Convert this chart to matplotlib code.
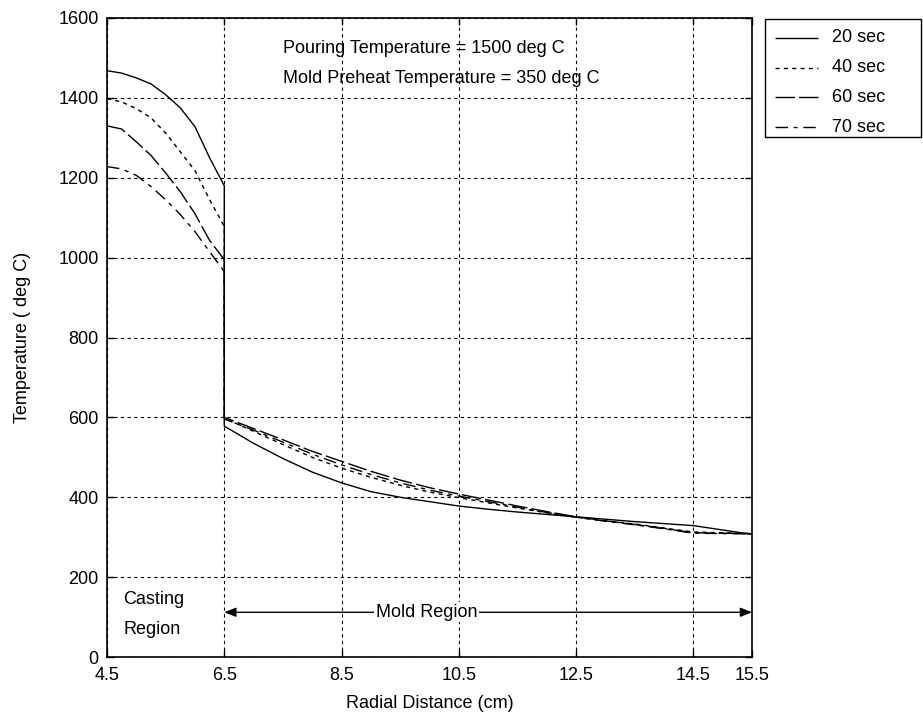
import matplotlib
matplotlib.use('Agg')
import matplotlib.pyplot as plt
from matplotlib.lines import Line2D
from matplotlib.patches import Rectangle

plt.rcParams['font.family'] = ['Liberation Sans', 'DejaVu Sans']

# casting region (radial distance, cm)
x_cast = [4.5, 4.75, 5.0, 5.25, 5.5, 5.75, 6.0, 6.25, 6.5]
# mold region
x_mold = [6.5, 7.0, 7.5, 8.0, 8.5, 9.0, 9.5, 10.0, 10.5, 11.0, 11.5, 12.0,
          12.5, 13.0, 13.5, 14.0, 14.5, 15.0, 15.5]

t20_cast = [1468, 1462, 1450, 1435, 1408, 1375, 1328, 1250, 1180]
t40_cast = [1398, 1390, 1373, 1350, 1312, 1265, 1218, 1145, 1078]
t60_cast = [1330, 1322, 1290, 1256, 1212, 1165, 1110, 1043, 995]
t70_cast = [1228, 1222, 1206, 1178, 1145, 1108, 1065, 1015, 965]

t20_mold = [578, 535, 497, 463, 436, 414, 400, 389, 378, 370, 363, 357, 351, 345, 339, 334, 329, 318, 307]
t40_mold = [598, 565, 532, 500, 473, 450, 430, 413, 399, 386, 373, 361, 350, 341, 333, 323, 313, 311, 309]
t60_mold = [600, 572, 544, 515, 490, 465, 443, 424, 408, 393, 378, 364, 351, 341, 332, 322, 311, 310, 309]
t70_mold = [596, 568, 538, 508, 481, 457, 436, 418, 403, 389, 375, 362, 350, 340, 331, 321, 310, 309, 308]

labels = ['20 sec', '40 sec', '60 sec', '70 sec']
xticks = [4.5, 6.5, 8.5, 10.5, 12.5, 14.5, 15.5]
yticks = [0, 200, 400, 600, 800, 1000, 1200, 1400, 1600]

W, H = 923, 727
fig = plt.figure(figsize=(W/100, H/100), dpi=100)
ax = fig.add_axes([107/W, 1 - 657/H, (752 - 107)/W, (657 - 18)/H])

styles = [(0, ()), (0, (3, 3)), (0, (14, 3)), (0, (9, 4, 3, 4))]
series = [(t20_cast, t20_mold), (t40_cast, t40_mold), (t60_cast, t60_mold), (t70_cast, t70_mold)]
for (tc, tm), st, lab in zip(series, styles, labels):
    ax.plot(x_cast + x_mold, tc + tm, color='black', lw=1.0, ls=st, label=lab)

ax.set_xlim(4.5, 15.5)
ax.set_ylim(0, 1600)
ax.set_xticks(xticks)
ax.set_xticklabels(['4.5', '6.5', '8.5', '10.5', '12.5', '14.5', '15.5'])
ax.set_yticks(yticks)
ax.tick_params(direction='in', top=True, right=True, length=5, width=1,
               labelsize=13, colors='black')
ax.tick_params(axis='x', pad=7)
ax.tick_params(axis='y', pad=6)
ax.grid(True, color='black', ls=(0, (3, 3)), lw=0.8)
for s in ax.spines.values():
    s.set_linewidth(1.2)

ax.set_xlabel('Radial Distance (cm)', fontsize=13, labelpad=8)
ax.set_ylabel('Temperature ( deg C)', fontsize=13, labelpad=20)

ax.text(7.5, 1524, 'Pouring Temperature = 1500 deg C', fontsize=13, va='center', ha='left')
ax.text(7.5, 1449, 'Mold Preheat Temperature = 350 deg C', fontsize=13, va='center', ha='left')

ax.text(4.78, 144, 'Casting', fontsize=13, va='center', ha='left')
ax.text(4.78, 69, 'Region', fontsize=13, va='center', ha='left')

ax.annotate('', xy=(6.5, 112), xytext=(15.5, 112),
            arrowprops=dict(arrowstyle='<|-|>,head_length=0.7,head_width=0.28',
                            color='black', lw=1.0, shrinkA=0, shrinkB=0))
ax.text(9.95, 112, 'Mold Region', fontsize=13, va='center', ha='center',
        bbox=dict(facecolor='white', edgecolor='none', pad=1))

# legend box drawn in figure pixels
fig.patches.append(Rectangle((765/W, 1 - 137/H), (921 - 765)/W, (137 - 19)/H,
                             transform=fig.transFigure, facecolor='white',
                             edgecolor='black', lw=1.0))
rows = [38, 68, 97, 127]
for yy, st, lab in zip(rows, styles, labels):
    fig.lines.append(Line2D([775/W, 818/W], [1 - yy/H, 1 - yy/H], transform=fig.transFigure,
                            color='black', lw=1.0, ls=st))
    fig.text(832/W, 1 - yy/H, lab, fontsize=13, va='center', ha='left')

fig.savefig('out.png', dpi=100, facecolor='white')
